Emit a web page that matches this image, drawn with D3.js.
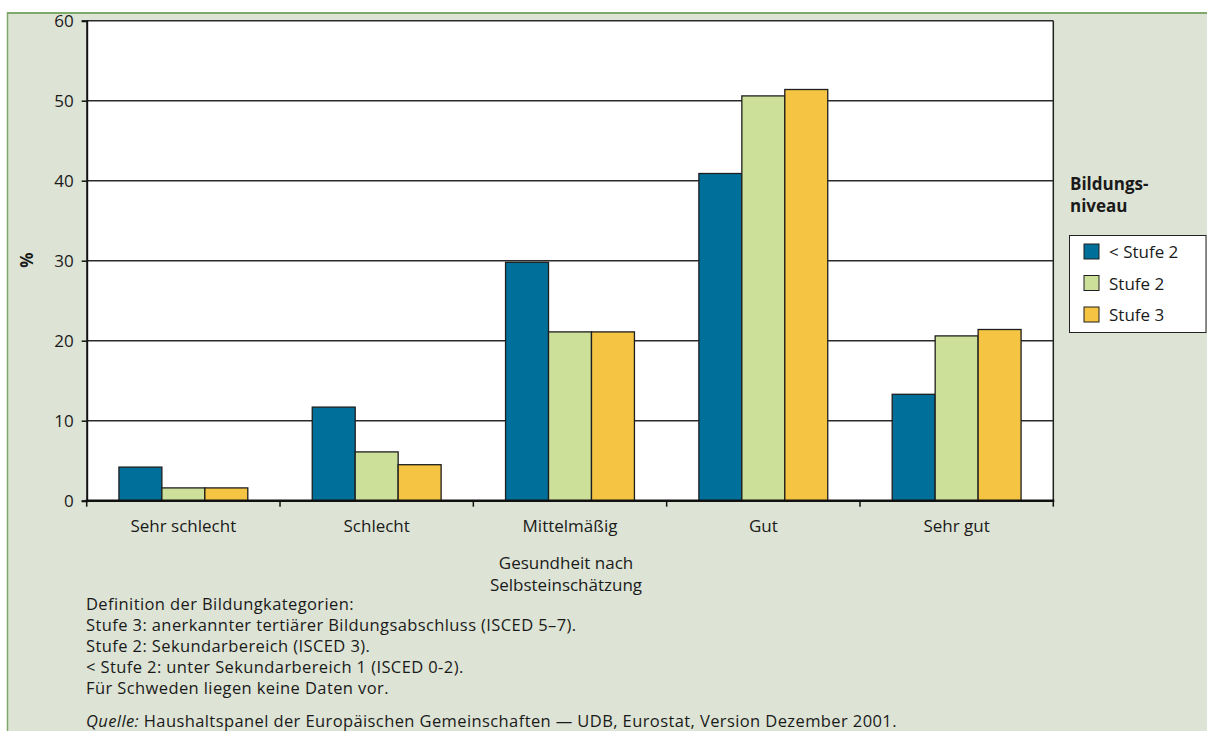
<!DOCTYPE html>
<html lang="de">
<head>
<meta charset="utf-8">
<script src="https://cdn.jsdelivr.net/npm/d3@7/dist/d3.min.js"></script>
<style>
  html, body { margin: 0; padding: 0; background: #ffffff; }
  svg { display: block; font-family: "Open Sans", "Noto Sans", sans-serif; }
</style>
</head>
<body>
<svg id="chart" width="1207" height="731"></svg>
<script>
// Gesundheit nach Selbsteinschätzung und Bildungsniveau (%)
const categories = ["Sehr schlecht", "Schlecht", "Mittelmäßig", "Gut", "Sehr gut"];
const seriesNames = ["< Stufe 2", "Stufe 2", "Stufe 3"];
const seriesColors = ["#00709a", "#cce09a", "#f6c443"];
const valuesBelowStufe2 = [4.2, 11.7, 29.8, 40.9, 13.3];
const valuesStufe2 = [1.6, 6.1, 21.1, 50.6, 20.6];
const valuesStufe3 = [1.6, 4.5, 21.1, 51.4, 21.4];
const yTicks = [0, 10, 20, 30, 40, 50, 60];
const footnotes = [
  "Definition der Bildungkategorien:",
  "Stufe 3: anerkannter tertiärer Bildungsabschluss (ISCED 5–7).",
  "Stufe 2: Sekundarbereich (ISCED 3).",
  "< Stufe 2: unter Sekundarbereich 1 (ISCED 0-2).",
  "Für Schweden liegen keine Daten vor."
];

const seriesValues = [valuesBelowStufe2, valuesStufe2, valuesStufe3];
const rows = categories.map((c, i) => ({
  category: c,
  values: seriesNames.map((s, j) => ({ series: s, idx: j, value: seriesValues[j][i] }))
}));

const FS = 17;
const svg = d3.select("#chart");

// panel background with green frame (top and left edges visible)
svg.append("rect").attr("x", 7).attr("y", 12).attr("width", 1220).attr("height", 740)
  .attr("fill", "#dde4d5");
svg.append("line").attr("x1", 7).attr("x2", 1207).attr("y1", 13).attr("y2", 13)
  .attr("stroke", "#7fa96a").attr("stroke-width", 2);
svg.append("line").attr("x1", 7.5).attr("x2", 7.5).attr("y1", 12).attr("y2", 731)
  .attr("stroke", "#7fa96a").attr("stroke-width", 1.5);

const plot = { left: 86.7, top: 20.7, right: 1053.3, bottom: 500.7 };

const x0 = d3.scaleBand().domain(categories).range([plot.left, plot.right]).paddingInner(0).paddingOuter(0);
// three adjacent bars, with a gap of 1.5 bar widths between clusters
const x1 = d3.scaleBand().domain(seriesNames).range([0, x0.bandwidth()]).paddingInner(0).paddingOuter(0.75);
const y = d3.scaleLinear().domain([0, 60]).range([plot.bottom, plot.top]);

// plot area
svg.append("rect").attr("x", plot.left).attr("y", plot.top)
  .attr("width", plot.right - plot.left).attr("height", plot.bottom - plot.top)
  .attr("fill", "#ffffff");

// horizontal gridlines
svg.append("g").selectAll("line").data(yTicks.filter(t => t > 0)).join("line")
  .attr("x1", plot.left).attr("x2", plot.right)
  .attr("y1", d => y(d)).attr("y2", d => y(d))
  .attr("stroke", "#2a2a2a").attr("stroke-width", 1.5);

// right border of plot area
svg.append("line").attr("x1", plot.right).attr("x2", plot.right)
  .attr("y1", plot.top).attr("y2", plot.bottom)
  .attr("stroke", "#222").attr("stroke-width", 1.5);

// bars
const groups = svg.append("g").selectAll("g").data(rows).join("g")
  .attr("transform", d => `translate(${x0(d.category)},0)`);
groups.selectAll("rect").data(d => d.values).join("rect")
  .attr("x", d => x1(d.series))
  .attr("width", x1.bandwidth())
  .attr("y", d => y(d.value))
  .attr("height", d => y(0) - y(d.value))
  .attr("fill", d => seriesColors[d.idx])
  .attr("stroke", "#1e1e1e").attr("stroke-width", 1.3);

// y axis
const yAxis = svg.append("g").attr("transform", `translate(${plot.left},0)`)
  .call(d3.axisLeft(y).tickValues(yTicks).tickSize(5).tickPadding(8));
yAxis.select(".domain").attr("stroke", "#111").attr("stroke-width", 2);
yAxis.selectAll(".tick line").attr("stroke", "#111").attr("stroke-width", 1.5);
yAxis.selectAll("text").attr("font-size", FS).attr("fill", "#1a1a1a")
  .attr("font-family", "'Open Sans', sans-serif");

// x axis with ticks at category boundaries
const xAxisG = svg.append("g").attr("transform", `translate(0,${plot.bottom})`);
xAxisG.append("line").attr("x1", plot.left - 1).attr("x2", plot.right + 1)
  .attr("stroke", "#111").attr("stroke-width", 2.5);
const boundaries = categories.map(c => x0(c)).concat([x0(categories[categories.length - 1]) + x0.bandwidth()]);
xAxisG.selectAll("line.tk").data(boundaries).join("line").attr("class", "tk")
  .attr("x1", d => d).attr("x2", d => d).attr("y1", 0).attr("y2", 6)
  .attr("stroke", "#111").attr("stroke-width", 1.5);
xAxisG.selectAll("text").data(categories).join("text")
  .attr("x", d => x0(d) + x0.bandwidth() / 2).attr("y", 31)
  .attr("text-anchor", "middle").attr("font-size", FS).attr("fill", "#1a1a1a")
  .text(d => d);

// axis titles
svg.append("text").attr("transform", "translate(33,260) rotate(-90)")
  .attr("text-anchor", "middle").attr("font-size", FS).attr("font-weight", "bold")
  .attr("fill", "#1a1a1a").text("%");
const xt = svg.append("text").attr("text-anchor", "middle").attr("font-size", FS).attr("fill", "#1a1a1a");
xt.append("tspan").attr("x", 566).attr("y", 569).text("Gesundheit nach");
xt.append("tspan").attr("x", 566).attr("y", 591).text("Selbsteinschätzung");

// legend
const lt = svg.append("text").attr("font-size", FS).attr("font-weight", "bold").attr("fill", "#1a1a1a");
lt.append("tspan").attr("x", 1070).attr("y", 190).text("Bildungs-");
lt.append("tspan").attr("x", 1070).attr("y", 212).text("niveau");
svg.append("rect").attr("x", 1069.5).attr("y", 235.5).attr("width", 136.5).attr("height", 97)
  .attr("fill", "#ffffff").attr("stroke", "#222").attr("stroke-width", 1);
const leg = svg.append("g").selectAll("g").data(seriesNames).join("g")
  .attr("transform", (d, i) => `translate(1084,${244 + i * 31.5})`);
leg.append("rect").attr("width", 15).attr("height", 15)
  .attr("fill", (d, i) => seriesColors[i]).attr("stroke", "#1e1e1e").attr("stroke-width", 1);
leg.append("text").attr("x", 25).attr("y", 14).attr("font-size", FS).attr("fill", "#1a1a1a")
  .text(d => d);

// footnotes and source
svg.append("g").selectAll("text").data(footnotes).join("text")
  .attr("x", 86).attr("y", (d, i) => 610 + i * 21)
  .attr("font-size", 16.5).attr("letter-spacing", 0.4).attr("fill", "#1a1a1a").text(d => d);
const src = svg.append("text").attr("x", 86).attr("y", 727).attr("font-size", 16.5)
  .attr("letter-spacing", 0.4).attr("fill", "#1a1a1a");
src.append("tspan").attr("font-style", "italic").text("Quelle:");
src.append("tspan").text(" Haushaltspanel der Europäischen Gemeinschaften — UDB, Eurostat, Version Dezember 2001.");
</script>
</body>
</html>
